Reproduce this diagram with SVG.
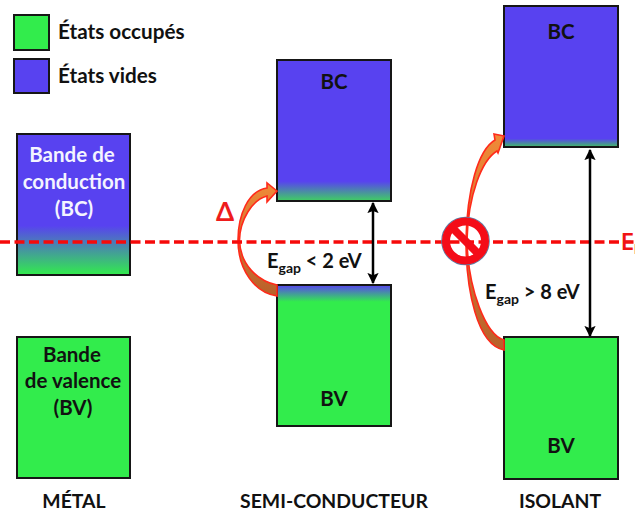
<svg xmlns="http://www.w3.org/2000/svg" width="635" height="516" viewBox="0 0 635 516">
<defs>
<style>
text{font-family:Lato,"Open Sans","Liberation Sans",sans-serif;font-weight:700;fill:#111}
.box{stroke:#161616;stroke-width:2}
.w{fill:#f4f4ff;font-size:20.500px;text-anchor:middle}
.t{font-size:20.700px}
.c{font-size:19.400px;text-anchor:middle}
.b{font-size:20.500px;text-anchor:middle}
.dbl{stroke:#000;stroke-width:2.500;fill:none;marker-start:url(#ah);marker-end:url(#ah)}
.cv{stroke:#ff2a1a;stroke-width:1.600}
</style>
<marker id="ah" viewBox="0 0 10 10" refX="9" refY="5" markerWidth="4.500" markerHeight="4.500" orient="auto-start-reverse"><path d="M0 0L10 5L0 10L2 5Z" fill="#000"/></marker>
<linearGradient id="gm" x1="0" y1="0" x2="0" y2="1"><stop offset="0.65" stop-color="#5842f0"/><stop offset="1" stop-color="#32ec4c"/></linearGradient>
<linearGradient id="gs" x1="0" y1="0" x2="0" y2="1"><stop offset="0.86" stop-color="#5842f0"/><stop offset="1" stop-color="#3fd060"/></linearGradient>
<linearGradient id="gi" x1="0" y1="0" x2="0" y2="1"><stop offset="0.94" stop-color="#5842f0"/><stop offset="1" stop-color="#3fc060"/></linearGradient>
<linearGradient id="gv" x1="0" y1="0" x2="0" y2="1"><stop offset="0" stop-color="#5842f0"/><stop offset="0.12" stop-color="#32ec4c"/></linearGradient>
<linearGradient id="ga" x1="0" y1="1" x2="0" y2="0"><stop offset="0" stop-color="#b8602a"/><stop offset="1" stop-color="#f08a38"/></linearGradient>
</defs>
<g id="legend-occupied"><rect class="box" x="14" y="15" width="35" height="35" fill="#32ec4c"/><text class="t" x="58" y="39">États occupés</text></g>
<g id="legend-empty"><rect class="box" x="14" y="59" width="35" height="34" fill="#5842f0"/><text class="t" x="58" y="83">États vides</text></g>
<g id="metal-bc"><rect class="box" x="17" y="134" width="113" height="141" fill="url(#gm)"/><text class="w" x="72" y="162">Bande de</text><text class="w" x="74" y="189">conduction</text><text class="w" x="74" y="216">(BC)</text></g>
<g id="metal-bv"><rect class="box" x="17" y="337" width="113" height="141" fill="#32ec4c"/><text class="b" x="72" y="362">Bande</text><text class="b" x="73" y="388">de valence</text><text class="b" x="73" y="415">(BV)</text></g>
<g id="semi-bc"><rect class="box" x="277" y="60" width="114" height="141" fill="url(#gs)"/><text class="b" x="334" y="89">BC</text></g>
<g id="semi-bv"><rect class="box" x="277" y="285" width="114" height="141" fill="url(#gv)"/><text class="b" x="334" y="406">BV</text></g>
<g id="iso-bc"><rect class="box" x="504" y="6" width="114" height="141" fill="url(#gi)"/><text class="b" x="561" y="39">BC</text></g>
<g id="iso-bv"><rect class="box" x="504" y="337" width="114" height="142" fill="#32ec4c"/><text class="b" x="561" y="453">BV</text></g>
<g id="connectors">
<path class="cv" fill="url(#ga)" d="M277 191L267 183L267 188C248 191 238 215 238 240C238 270 255 293 277 296L277 285C258 281 240 265 239.500 240C240 220 252 200 267 196L267 202Z"/>
<path class="cv" fill="url(#ga)" d="M504 136L494 134L495 140C478 150 467 190 466 240C466 290 477 345 504 350L504 340C486 335 468 290 467 240C468 195 482 160 497 151L498 153Z"/>
<path d="M0 242H635" stroke="#f60a0a" stroke-width="3.500" stroke-dasharray="10 4.500" fill="none"/>
<path class="dbl" d="M373 203V283"/>
<path class="dbl" d="M590 150V336"/>
</g>
<g id="no-sign"><circle cx="465.500" cy="241" r="23.700" fill="none" stroke="#5b7fa8" stroke-width="1.200"/><circle cx="465.500" cy="241" r="19.500" fill="none" stroke="#f40c18" stroke-width="8"/><path d="M452 227.500L479 254.500" stroke="#f40c18" stroke-width="8"/></g>
<g id="labels">
<text x="216" y="221" style="fill:#ee1c1c;font-size:26px">Δ</text>
<text x="621" y="250" style="fill:#f01414;font-size:22px">E<tspan dy="4" font-size="14">F</tspan></text>
<text x="267" y="268" style="font-size:20px">E<tspan dy="5" font-size="14">gap</tspan><tspan dy="-5"> &lt; 2 eV</tspan></text>
<text x="485" y="299" style="font-size:20px">E<tspan dy="5" font-size="14">gap</tspan><tspan dy="-5"> &gt; 8 eV</tspan></text>
<text class="c" x="74" y="508">MÉTAL</text>
<text class="c" x="334" y="508">SEMI-CONDUCTEUR</text>
<text class="c" x="560" y="508">ISOLANT</text>
</g>
</svg>
